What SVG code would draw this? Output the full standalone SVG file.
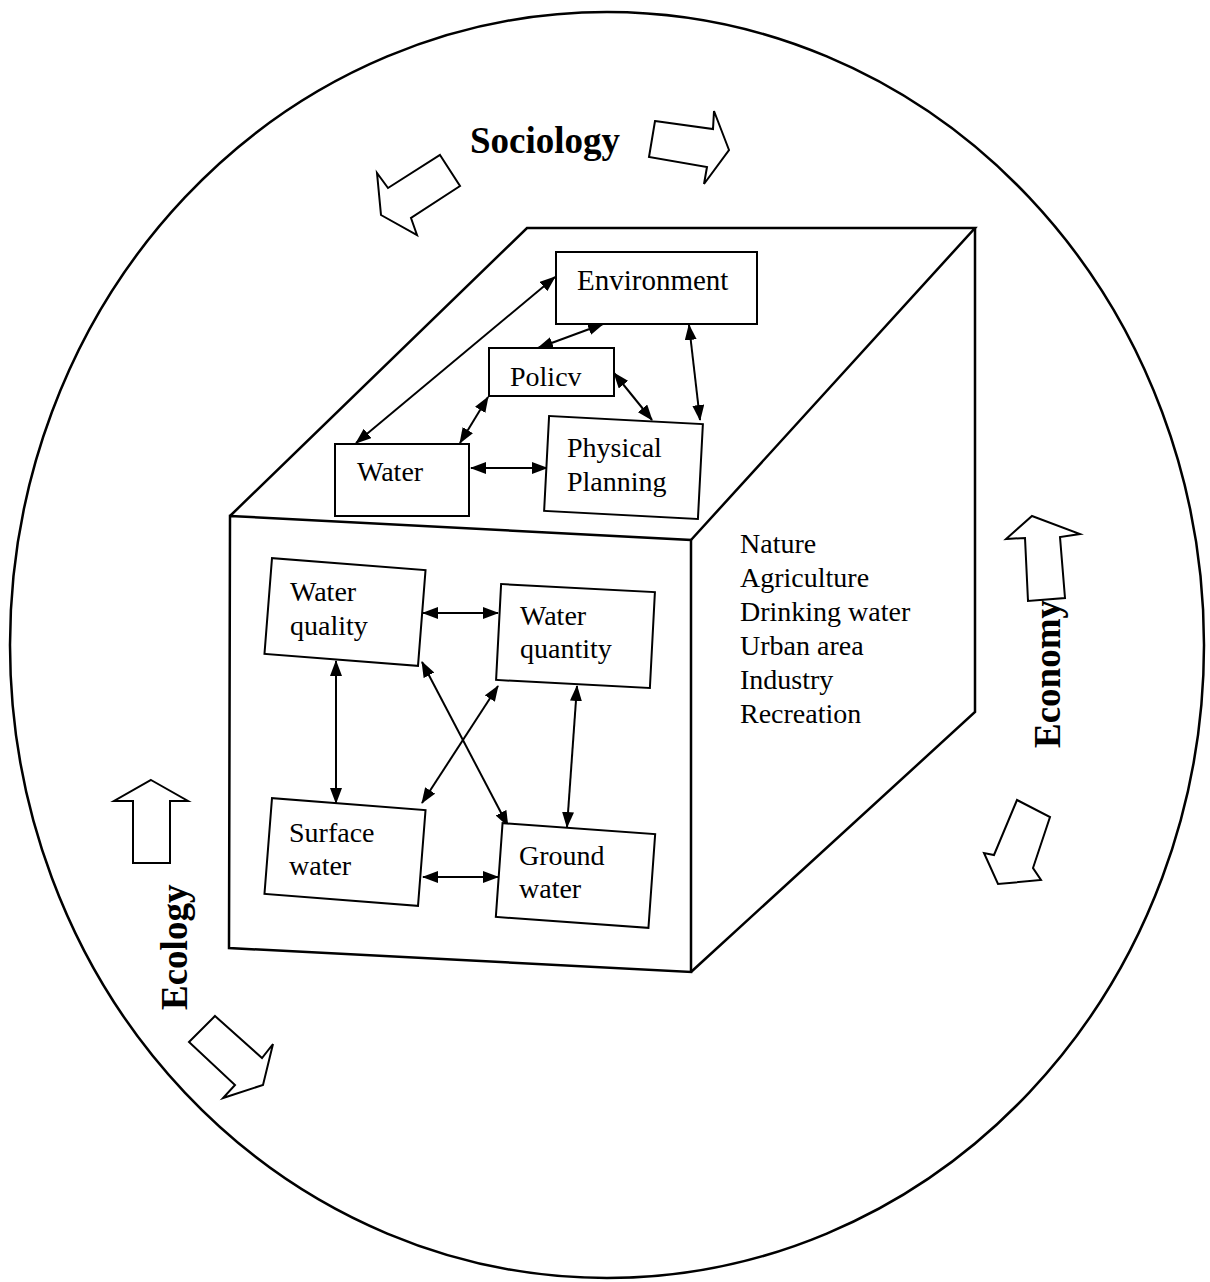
<svg xmlns="http://www.w3.org/2000/svg" width="1210" height="1282" viewBox="0 0 1210 1282">
<style>
.ln{fill:none;stroke:#000;stroke-width:2.5;stroke-linejoin:miter}
.box{fill:#fff;stroke:#000;stroke-width:2}
.blk{fill:#fff;stroke:#000;stroke-width:2;stroke-linejoin:miter}
.t{font-family:"Liberation Serif","Times New Roman",serif;font-size:28px;fill:#000}
.b{font-family:"Liberation Serif","Times New Roman",serif;font-size:37px;font-weight:bold;fill:#000}
.c{stroke:#000;stroke-width:2;fill:none;marker-start:url(#ah);marker-end:url(#ah)}
</style>
<defs>
<marker id="ah" viewBox="0 0 16 12" refX="15" refY="6" markerWidth="16" markerHeight="12" markerUnits="userSpaceOnUse" orient="auto-start-reverse">
<path d="M0,0 L16,6 L0,12 Z" fill="#000"/>
</marker>
</defs>
<rect width="1210" height="1282" fill="#fff"/>
<g id="circle"><ellipse cx="607" cy="645" rx="597" ry="633" class="ln" stroke-width="2"/></g>
<g id="cube">
<polyline class="ln" points="230,516 527,228 975,228 691,540"/>
<polygon class="ln" points="230,516 691,540 691,972 229,948"/>
<polyline class="ln" points="975,228 975,712 691,972"/>
</g>
<g id="labels">
<text class="b" x="470" y="153">Sociology</text>
<text class="b" transform="translate(1060,748) rotate(-90)">Economy</text>
<text class="b" transform="translate(187,1010) rotate(-90)">Ecology</text>
</g>
<g id="block-arrows">
<polygon class="blk" points="655,121 713,129 714,111 729,150 704,184 707,167 649,157"/>
<polygon class="blk" points="440,155 460,186 411,218 417,235 381,215 377,173 388,188"/>
<polygon class="blk" points="1032,516 1080,534 1060,537 1065,598 1028,601 1025,538 1006,539"/>
<polygon class="blk" points="1017,800 1050,817 1033,868 1041,880 998,884 984,853 994,855"/>
<polygon class="blk" points="151,780 188,801 170,801 170,863 133,863 133,801 114,801"/>
<polygon class="blk" points="215,1016 262,1058 273,1044 263,1085 223,1098 235,1085 189,1042"/>
</g>
<g id="list">
<text class="t" x="740" y="553">Nature</text>
<text class="t" x="740" y="587">Agriculture</text>
<text class="t" x="740" y="621">Drinking water</text>
<text class="t" x="740" y="655">Urban area</text>
<text class="t" x="740" y="689">Industry</text>
<text class="t" x="740" y="723">Recreation</text>
</g>
<g id="connectors">
<line class="c" x1="356" y1="443" x2="555" y2="277"/>
<line class="c" x1="538" y1="348" x2="603" y2="324"/>
<line class="c" x1="689" y1="325" x2="700" y2="420"/>
<line class="c" x1="614" y1="373" x2="652" y2="420"/>
<line class="c" x1="488" y1="397" x2="460" y2="443"/>
<line class="c" x1="471" y1="468" x2="547" y2="468"/>
<line class="c" x1="423" y1="613" x2="498" y2="613"/>
<line class="c" x1="336" y1="661" x2="336" y2="803"/>
<line class="c" x1="577" y1="686" x2="567" y2="827"/>
<line class="c" x1="422" y1="662" x2="508" y2="826"/>
<line class="c" x1="498" y1="686" x2="422" y2="803"/>
<line class="c" x1="423" y1="877" x2="498" y2="877"/>
</g>
<g id="environment">
<rect class="box" x="556" y="252" width="201" height="72"/>
<text class="t" x="577" y="290" style="font-size:29px">Environment</text>
</g>
<g id="policy">
<rect class="box" x="489" y="348" width="125" height="48"/>
<text class="t" x="510" y="386">Policv</text>
</g>
<g id="water">
<rect class="box" x="335" y="444" width="134" height="72"/>
<text class="t" x="357" y="481">Water</text>
</g>
<g id="physical-planning">
<rect class="box" x="546.5" y="420" width="154" height="95" transform="rotate(3 623.5 467.5)"/>
<text class="t" x="567" y="457">Physical</text>
<text class="t" x="567" y="491">Planning</text>
</g>
<g id="water-quality">
<rect class="box" x="268" y="564" width="154" height="96" transform="rotate(4.5 345 612)"/>
<text class="t" x="290" y="601">Water</text>
<text class="t" x="290" y="635">quality</text>
</g>
<g id="water-quantity">
<rect class="box" x="498.5" y="588" width="154" height="96" transform="rotate(3 575.5 636)"/>
<text class="t" x="520" y="625">Water</text>
<text class="t" x="520" y="658">quantity</text>
</g>
<g id="surface-water">
<rect class="box" x="268" y="804" width="154" height="96" transform="rotate(4.5 345 852)"/>
<text class="t" x="289" y="842">Surface</text>
<text class="t" x="289" y="875">water</text>
</g>
<g id="ground-water">
<rect class="box" x="499" y="828.5" width="153" height="94" transform="rotate(4.1 575.5 875.5)"/>
<text class="t" x="519" y="865">Ground</text>
<text class="t" x="519" y="898">water</text>
</g>
</svg>
